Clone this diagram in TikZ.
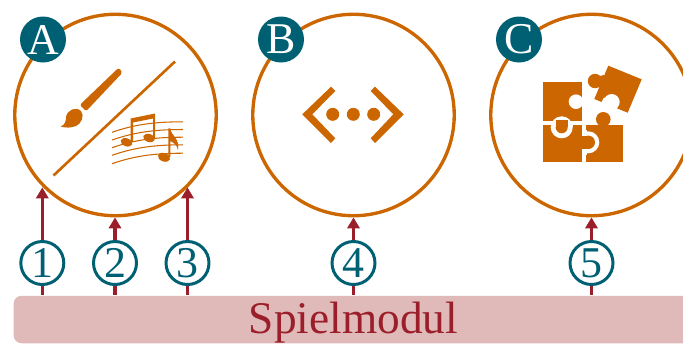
\documentclass[tikz,border=0pt]{standalone}
\usepackage{fontspec}
\setmainfont{Liberation Serif}
\usetikzlibrary{arrows.meta}
\definecolor{spielorange}{HTML}{CC6600}
\definecolor{spielteal}{HTML}{006073}
\definecolor{spielred}{HTML}{9B1F2A}
\definecolor{spielbar}{HTML}{E0B9B9}
\tikzset{
  modulecircle/.style={draw=spielorange, line width=1.9pt, circle, minimum size=4.03cm, inner sep=0pt},
  badge/.style={circle, fill=spielteal, text=white, minimum size=.92cm, inner sep=0pt, font=\fontsize{25}{25}\selectfont},
  numcircle/.style={draw=spielteal, line width=1.7pt, circle, fill=white, text=spielteal, minimum size=.86cm, inner sep=0pt, font=\fontsize{25}{25}\selectfont},
  link/.style={spielred, line width=1.9pt},
  linkarrow/.style={link, -{Triangle[length=6.3pt,width=7pt]}},
  staffline/.style={spielorange, line width=.6pt},
}
\begin{document}
\begin{tikzpicture}[x=.02cm, y=-.02cm]
\clip (0,0) rectangle (683,343);

\node[fill=spielbar, rounded corners=.16cm, minimum width=13.58cm, minimum height=.95cm, inner sep=0pt] (bar) at (353,319.5) {};
\node[text=spielred, inner sep=0pt, font=\fontsize{25.8}{25.8}\selectfont] (barlabel) at (353.5,322.5) {Spielmodul};

\node[modulecircle] (circA) at (115.5,115) {};
\node[modulecircle] (circB) at (353.5,115) {};
\node[modulecircle] (circC) at (591.5,115) {};

\node[badge] (badgeA) at (43,39.5) {A};
\node[badge] (badgeB) at (281,39.5) {B};
\node[badge] (badgeC) at (519,39.5) {C};

\node[numcircle] (num1) at (42.3,263) {1};
\node[numcircle] (num2) at (115,263) {2};
\node[numcircle] (num3) at (187.5,263) {3};
\node[numcircle] (num4) at (353.5,263) {4};
\node[numcircle] (num5) at (591.5,263) {5};

\draw[linkarrow] (num1.north) -- (num1.north |- circA.-135);
\draw[linkarrow] (num2.north) -- (num2.north |- circA.south);
\draw[linkarrow] (num3.north) -- (num3.north |- circA.-45);
\draw[linkarrow] (num4.north) -- (num4.north |- circB.south);
\draw[linkarrow] (num5.north) -- (num5.north |- circC.south);
\draw[link] (num1.south) -- (num1.south |- bar.north);
\draw[link] (num2.south) -- (num2.south |- bar.north);
\draw[link] (num3.south) -- (num3.south |- bar.north);
\draw[link] (num4.south) -- (num4.south |- bar.north);
\draw[link] (num5.south) -- (num5.south |- bar.north);

\draw[spielorange, line width=1.5pt] (53.5,175.5) -- (175,61.5);
\draw[spielorange, fill=spielorange, line width=2.6pt, line join=round] (83,105) -- (86,108) -- (119.5,72.5) -- (118.5,71) -- cycle;
\fill[spielorange] (60.7,126.5) .. controls (65,125) and (66,121) .. (66,117) .. controls (67,110) and (76,106) .. (81,111) .. controls (85,116) and (81,124) .. (76,126) .. controls (71,128) and (65,128) .. (60.7,126.5) -- cycle;

\foreach \ly in {132.3,140,147.7,155.3,163.7}
  \draw[staffline] (112,\ly) .. controls (135,\ly-8) and (155,\ly-10.5) .. (183,\ly-10.5);
\fill[spielorange] (130.5,118.5) -- (155,113.5) -- (155,139) -- (153,139) -- (153,118.5) -- (133,122.5) -- (133,142) -- (130.5,142) -- cycle;
\fill[spielorange, rotate around={-20:(126.5,142.3)}] (126.5,142.3) ellipse [x radius=6, y radius=4];
\fill[spielorange, rotate around={-20:(149,138)}] (149,138) ellipse [x radius=6, y radius=4];
\fill[spielorange] (168.3,128.3) -- (170.3,128.3) .. controls (171,136) and (180,138) .. (178,150) .. controls (177,145) and (174,143) .. (170.3,141) -- (170.3,157) -- (168.3,157) -- cycle;
\fill[spielorange, rotate around={-20:(164,157.3)}] (164,157.3) ellipse [x radius=6.3, y radius=4.2];

\fill[spielorange] (302.3,114.3) -- (331,86.7) -- (335.3,91) -- (312.3,114.3) -- (335.3,138.3) -- (331,143) -- cycle;
\fill[spielorange] (403.7,114.3) -- (375,86.7) -- (370.7,91) -- (393.3,114.3) -- (370.7,138.3) -- (375,143) -- cycle;
\foreach \dx in {332.7,353.3,373.7}
  \fill[spielorange] (\dx,114.3) circle [radius=6.5];

\fill[spielorange] (542.7,82) rectangle (582.3,121.3);
\fill[white] (576,101.7) circle [radius=7.3];
\fill[white] (576,97.5) rectangle (583,106);

\fill[spielorange] (586.3,125.3) rectangle (623,162.3);
\fill[spielorange] (603.3,119.3) circle [radius=7.3];
\fill[white] (588.3,142.3) circle [radius=11];
\fill[white] (582,130) rectangle (587,155);
\fill[spielorange] (542.7,125.3) rectangle (582.3,162.3);
\fill[spielorange] (582,136) rectangle (588,148.6);
\fill[spielorange] (588.3,142.3) circle [radius=6.7];
\fill[white] (561.7,127.3) circle [radius=11];
\fill[white] (550.7,121.3) rectangle (572.7,127);
\fill[spielorange] (561.7,127.3) circle [radius=6];
\fill[spielorange] (555.7,120) rectangle (567.7,127.3);

\fill[spielorange] (608.3,65.7) -- (641.7,79.3) -- (627.7,112.7) -- (594.3,99) -- cycle;
\fill[spielorange] (595,81) circle [radius=7.2];
\fill[spielorange] (595,77) -- (604,75) -- (604,90) -- (595,85) -- cycle;
\fill[white] (611.7,102) circle [radius=8];
\fill[white] (604,97.5) -- (618.5,103.5) -- (616,111) -- (600,105) -- cycle;
\end{tikzpicture}
\end{document}
